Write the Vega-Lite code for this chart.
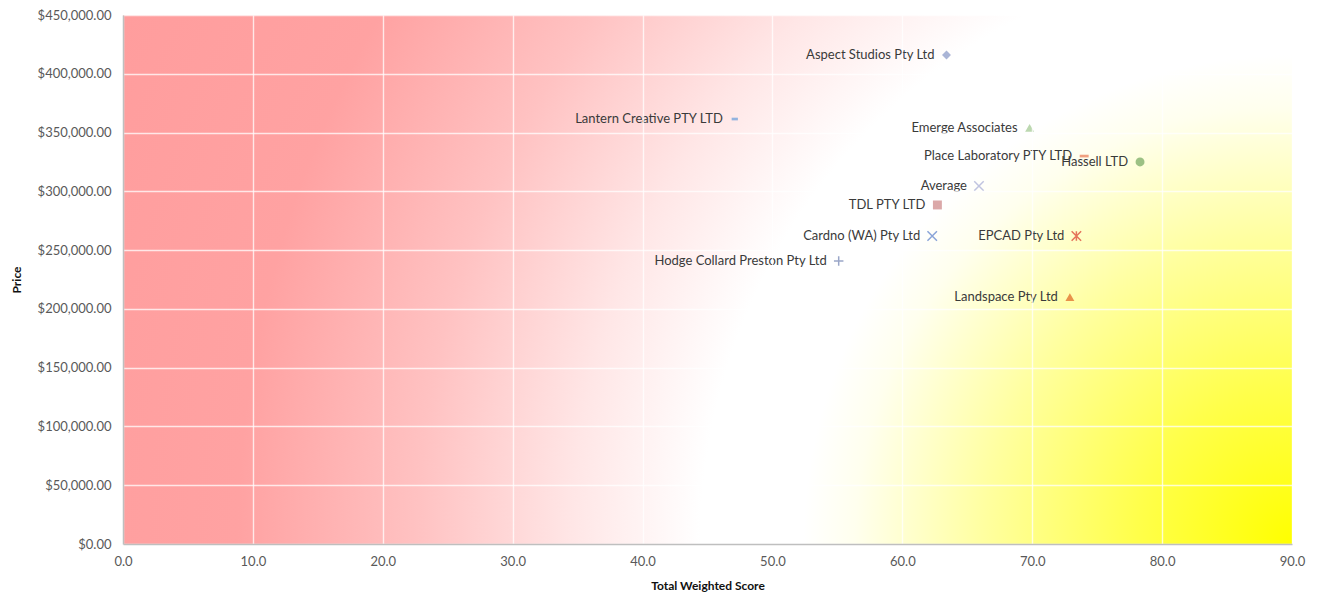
{
  "$schema": "https://vega.github.io/schema/vega-lite/v6.json",
  "width": 1169,
  "height": 529,
  "autosize": {"type": "none"},
  "padding": {"left": 123, "top": 15, "right": 27, "bottom": 58},
  "background": "white",
  "config": {
    "font": "Lato",
    "view": {"stroke": null},
    "axis": {
      "labelFont": "Lato",
      "labelFontSize": 13,
      "labelColor": "#595959",
      "labelFlush": false,
      "ticks": false,
      "domainColor": "#bfbfbf",
      "domainWidth": 1.5,
      "grid": true,
      "gridColor": "#ffffff",
      "gridWidth": 1.4,
      "gridOpacity": 0.75,
      "titleFont": "Lato",
      "titleFontSize": 12,
      "titleFontWeight": "bold",
      "titleColor": "#111111"
    }
  },
  "data": {
    "values": [
      {"name": "Aspect Studios Pty Ltd", "score": 63.4, "price": 416000},
      {"name": "Lantern Creative PTY LTD", "score": 47.1, "price": 361500},
      {"name": "Emerge Associates", "score": 69.8, "price": 354000},
      {"name": "Place Laboratory PTY LTD", "score": 74.0, "price": 330000},
      {"name": "Hassell LTD", "score": 78.3, "price": 325000},
      {"name": "Average", "score": 65.9, "price": 304500},
      {"name": "TDL PTY LTD", "score": 62.7, "price": 288400},
      {"name": "Cardno (WA) Pty Ltd", "score": 62.3, "price": 262000},
      {"name": "EPCAD Pty Ltd", "score": 73.4, "price": 262000},
      {"name": "Hodge Collard Preston Pty Ltd", "score": 55.1, "price": 240700},
      {"name": "Landspace Pty Ltd", "score": 72.9, "price": 210100}
    ]
  },
  "encoding": {
    "x": {
      "field": "score", "type": "quantitative", "title": "Total Weighted Score",
      "scale": {"domain": [0, 90], "nice": false, "zero": false},
      "axis": {
        "values": [0, 10, 20, 30, 40, 50, 60, 70, 80, 90],
        "format": ".1f",
        "labelPadding": 11,
        "titlePadding": 12,
        "zindex": 1
      }
    },
    "y": {
      "field": "price", "type": "quantitative", "title": "Price",
      "scale": {"domain": [0, 450000], "nice": false},
      "axis": {
        "values": [0, 50000, 100000, 150000, 200000, 250000, 300000, 350000, 400000, 450000],
        "format": "$,.2f",
        "labelPadding": 12,
        "titlePadding": 14,
        "zindex": 1
      }
    }
  },
  "layer": [
    {
      "data": {"values": [{"score": 0, "score2": 90, "price": 0, "price2": 450000}]},
      "mark": {
        "type": "rect",
        "fill": {
          "gradient": "radial",
          "x1": 1, "y1": 0.726, "r1": 0,
          "x2": 1, "y2": 0.726, "r2": 1.1,
          "stops": [
            {"offset": 0, "color": "#ffff00"},
            {"offset": 0.12, "color": "#ffff4a"},
            {"offset": 0.24, "color": "#ffffa0"},
            {"offset": 0.34, "color": "#ffffee"},
            {"offset": 0.38, "color": "#ffffff"},
            {"offset": 0.46, "color": "#ffffff"},
            {"offset": 0.56, "color": "#ffe6e6"},
            {"offset": 0.68, "color": "#ffc2c2"},
            {"offset": 0.82, "color": "#ffa2a2"},
            {"offset": 1, "color": "#ff9d9d"}
          ]
        }
      },
      "encoding": {
        "x2": {"field": "score2"},
        "y2": {"field": "price2"}
      }
    },
    {
      "transform": [{"filter": {"field": "name", "oneOf": ["Aspect Studios Pty Ltd", "Lantern Creative PTY LTD", "Emerge Associates", "Place Laboratory PTY LTD", "Hassell LTD", "TDL PTY LTD", "Landspace Pty Ltd"]}}],
      "mark": {"type": "point", "filled": true, "opacity": 1, "size": 80},
      "encoding": {
        "shape": {
          "field": "name", "type": "nominal", "legend": null,
          "scale": {
            "domain": ["Aspect Studios Pty Ltd", "Lantern Creative PTY LTD", "Emerge Associates", "Place Laboratory PTY LTD", "Hassell LTD", "Average", "TDL PTY LTD", "Cardno (WA) Pty Ltd", "EPCAD Pty Ltd", "Hodge Collard Preston Pty Ltd", "Landspace Pty Ltd"],
            "range": ["diamond", "M-0.7,-0.3L0.7,-0.3L0.7,0.3L-0.7,0.3Z", "triangle-up", "M-1,-0.3L1,-0.3L1,0.3L-1,0.3Z", "circle", "M-1,-1L1,1M-1,1L1,-1", "square", "M-1,-1L1,1M-1,1L1,-1", "M-1,-1L1,1M-1,1L1,-1M0,-1L0,1", "M-1,0L1,0M0,-1L0,1", "triangle-up"]
          }
        },
        "color": {
          "field": "name", "type": "nominal", "legend": null,
          "scale": {
            "domain": ["Aspect Studios Pty Ltd", "Lantern Creative PTY LTD", "Emerge Associates", "Place Laboratory PTY LTD", "Hassell LTD", "Average", "TDL PTY LTD", "Cardno (WA) Pty Ltd", "EPCAD Pty Ltd", "Hodge Collard Preston Pty Ltd", "Landspace Pty Ltd"],
            "range": ["#aab4d6", "#93b3df", "#bcd8b0", "#f0a080", "#9cc184", "#c0c4e0", "#dba8a8", "#8aa4d8", "#e5735a", "#9aa6c8", "#e8924a"]
          }
        }
      }
    },
    {
      "transform": [{"filter": {"field": "name", "oneOf": ["Average", "Cardno (WA) Pty Ltd", "EPCAD Pty Ltd", "Hodge Collard Preston Pty Ltd"]}}],
      "mark": {"type": "point", "filled": false, "opacity": 1, "size": 90, "strokeWidth": 1.5},
      "encoding": {
        "shape": {"field": "name", "type": "nominal", "legend": null},
        "color": {"field": "name", "type": "nominal", "legend": null}
      }
    },
    {
      "mark": {"type": "text", "align": "right", "baseline": "middle", "dx": -12, "fontSize": 13, "font": "Lato", "color": "#3a3a3a"},
      "encoding": {
        "text": {"field": "name"}
      }
    }
  ],
  "resolve": {"scale": {"shape": "shared", "color": "shared"}}
}
